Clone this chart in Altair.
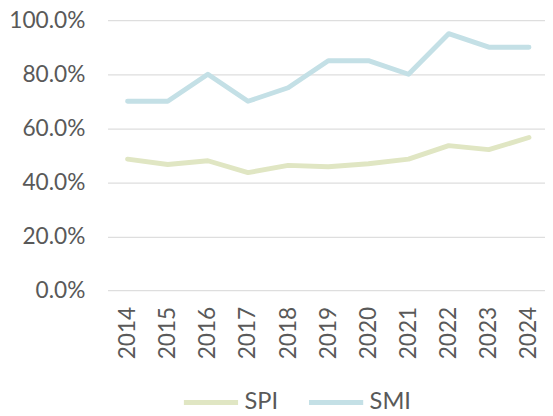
import altair as alt
import pandas as pd

years = [2014, 2015, 2016, 2017, 2018, 2019, 2020, 2021, 2022, 2023, 2024]
spi = [48.6, 46.6, 48.0, 43.6, 46.3, 45.8, 46.9, 48.6, 53.6, 52.1, 56.6]
smi = [70, 70, 80, 70, 75, 85, 85, 80, 95, 90, 90]
series = ["SPI", "SMI"]
colors = ["#e0e6c3", "#c4e0e6"]
y_ticks = [0, 0.2, 0.4, 0.6, 0.8, 1.0]

rows = []
for name, vals in zip(series, [spi, smi]):
    for yr, v in zip(years, vals):
        rows.append({"year": yr, "value": v / 100.0, "series": name})
df = pd.DataFrame(rows)

FONT = "Lato"
GRAY = "#595959"

chart = alt.Chart(df).mark_line(strokeWidth=5, strokeCap="round", strokeJoin="round").encode(
    x=alt.X("year:Q",
            scale=alt.Scale(domain=[2013.5, 2024.4], nice=False, zero=False),
            axis=alt.Axis(values=years, format="d", labelAngle=-90, labelFlush=False,
                          domain=False, ticks=False, grid=False, title=None,
                          labelFont=FONT, labelFontSize=23, labelColor=GRAY,
                          labelPadding=16)),
    y=alt.Y("value:Q",
            scale=alt.Scale(domain=[0, 1], nice=False),
            axis=alt.Axis(values=y_ticks, format=".1%", domain=False, ticks=False,
                          grid=True, gridColor="#dedede", gridWidth=1.3, title=None,
                          labelFont=FONT, labelFontSize=23, labelColor=GRAY,
                          labelPadding=23)),
    color=alt.Color("series:N",
                    scale=alt.Scale(domain=series, range=colors),
                    legend=alt.Legend(orient="none", legendX=75, legendY=358,
                                      direction="horizontal", title=None,
                                      symbolType="stroke", symbolSize=3025,
                                      symbolStrokeWidth=5, labelOffset=4,
                                      columnPadding=20, padding=0,
                                      labelFont=FONT, labelFontSize=24,
                                      labelColor=GRAY)),
    order=alt.Order("year:Q"),
).properties(
    width=444,
    height=274.4,
    autosize=alt.AutoSizeParams(type="none"),
    padding={"left": 101, "top": 9.3, "right": 0, "bottom": 124},
).configure_view(stroke=None)

chart.save("out.html", embed_options={"renderer": "svg", "actions": False})
